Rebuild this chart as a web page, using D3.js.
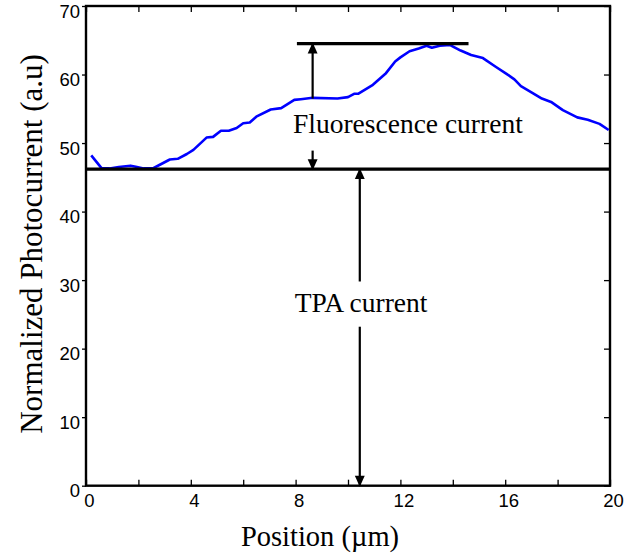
<!DOCTYPE html>
<html lang="en">
  <script>
    // blue trace
    var posX = [0.2, 0.6, 0.9, 1.25, 1.7, 1.9, 2.2, 2.55, 2.8, 3.2, 3.5, 3.85, 4.1, 4.6, 4.85, 5.15, 5.45, 5.75, 6.0, 6.25, 6.5, 7.05, 7.45, 7.95, 8.2, 8.65, 9.6, 10.0, 10.25, 10.4, 10.95, 11.45, 11.8, 12.0, 12.35, 12.7, 13.0, 13.2, 13.5, 13.9, 14.3, 14.7, 15.15, 15.65, 16.05, 16.35, 16.6, 17.05, 17.4, 17.75, 18.2, 18.75, 19.15, 19.6, 19.95];
    var photo = [48.2, 46.3, 46.3, 46.5, 46.7, 46.55, 46.3, 46.3, 46.8, 47.6, 47.7, 48.4, 49.0, 50.8, 50.9, 51.8, 51.8, 52.2, 52.9, 53.0, 53.85, 54.9, 55.1, 56.3, 56.4, 56.6, 56.5, 56.7, 57.2, 57.2, 58.5, 60.2, 61.9, 62.5, 63.4, 63.8, 64.2, 63.9, 64.2, 64.3, 63.5, 62.85, 62.4, 61.1, 60.1, 59.3, 58.3, 57.3, 56.5, 56.0, 54.8, 53.75, 53.4, 52.8, 51.9];

    var xTickLabels = [0, 4, 8, 12, 16, 20];
    var xTicks = [0, 2, 4, 6, 8, 10, 12, 14, 16, 18, 20];
    var yTickLabels = [0, 10, 20, 30, 40, 50, 60, 70];

    // annotation levels
    var tpaLevel = 46.2;
    var peakLevel = 64.5;
    var peakLineX = [8.05, 14.6];
    var fluoArrow = {x: 8.65, upFrom: 56.5, downFrom: 48.9, label: "Fluorescence current", labelX: 7.9, labelY: 51.4};
    var tpaArrow = {x: 10.45, upFrom: 29.8, downFrom: 23.2, label: "TPA current", labelX: 10.5, labelY: 25.4};

    function draw() {
        var svg = d3.select("#chart")
          .append("svg")
            .attr("width", 643)
            .attr("height", 560);

        var x = d3.scaleLinear().domain([0, 20]).range([86, 610]);
        var y = d3.scaleLinear().domain([0, 70]).range([485.7, 6]);

        var defs = svg.append("defs");
        defs.append("marker")
            .attr("id", "head")
            .attr("viewBox", "0 0 10 10")
            .attr("refX", 9)
            .attr("refY", 5)
            .attr("markerWidth", 12)
            .attr("markerHeight", 11)
            .attr("markerUnits", "userSpaceOnUse")
            .attr("orient", "auto")
          .append("path")
            .attr("d", "M0,0.5 L10,5 L0,9.5 Z")
            .attr("fill", "black");

        // bottom axis, ticks inward
        var xAxis = svg.append("g")
            .attr("transform", "translate(0," + y(0) + ")")
            .call(d3.axisBottom(x).tickValues(xTicks).tickSizeInner(-6).tickSizeOuter(0).tickPadding(8)
                .tickFormat(function(d) { return xTickLabels.indexOf(d) >= 0 ? d : ""; }));
        xAxis.select(".domain").remove();
        xAxis.selectAll("text").attr("dx", 3);

        svg.append("g")
            .attr("transform", "translate(0," + y(70) + ")")
            .call(d3.axisTop(x).tickValues(xTicks).tickSizeInner(-6).tickSizeOuter(0).tickFormat(""))
            .select(".domain").remove();

        var yAxis = svg.append("g")
            .attr("transform", "translate(" + x(0) + ",0)")
            .call(d3.axisLeft(y).tickValues(yTickLabels).tickSizeInner(4).tickSizeOuter(0).tickPadding(2));
        yAxis.select(".domain").remove();
        yAxis.selectAll("text").attr("dy", "0.6em");

        svg.append("g")
            .attr("transform", "translate(" + x(20) + ",0)")
            .call(d3.axisRight(y).tickValues(yTickLabels).tickSizeInner(-6).tickSizeOuter(0).tickFormat(""))
            .select(".domain").remove();

        svg.selectAll(".tick line").attr("stroke", "black").attr("stroke-width", 1.3);
        svg.selectAll(".tick text")
            .attr("font-family", "'Liberation Sans', Arial, sans-serif")
            .attr("font-size", 18.5)
            .attr("fill", "black");

        // frame
        svg.append("rect")
            .attr("x", x(0))
            .attr("y", y(70))
            .attr("width", x(20) - x(0))
            .attr("height", y(0) - y(70))
            .attr("fill", "none")
            .attr("stroke", "black")
            .attr("stroke-width", 2.4);

        // curve
        var line = d3.line()
            .x(function(d, i) { return x(posX[i]); })
            .y(function(d) { return y(d); });
        svg.append("path")
            .datum(photo)
            .attr("d", line)
            .attr("fill", "none")
            .attr("stroke", "#0000ff")
            .attr("stroke-width", 2.6)
            .attr("stroke-linejoin", "round");

        // level lines
        svg.append("line")
            .attr("x1", x(0)).attr("x2", x(20))
            .attr("y1", y(tpaLevel)).attr("y2", y(tpaLevel))
            .attr("stroke", "black").attr("stroke-width", 3.2);
        svg.append("line")
            .attr("x1", x(peakLineX[0])).attr("x2", x(peakLineX[1]))
            .attr("y1", y(peakLevel)).attr("y2", y(peakLevel))
            .attr("stroke", "black").attr("stroke-width", 3.2);

        // arrows
        function arrow(xv, from, to) {
            svg.append("line")
                .attr("x1", x(xv)).attr("x2", x(xv))
                .attr("y1", y(from)).attr("y2", y(to))
                .attr("stroke", "black").attr("stroke-width", 2.2)
                .attr("marker-end", "url(#head)");
        }
        arrow(fluoArrow.x, fluoArrow.upFrom, peakLevel);
        arrow(fluoArrow.x, fluoArrow.downFrom, tpaLevel);
        arrow(tpaArrow.x, tpaArrow.upFrom, tpaLevel);
        arrow(tpaArrow.x, tpaArrow.downFrom, 0);

        svg.append("text")
            .attr("x", x(fluoArrow.labelX))
            .attr("y", y(fluoArrow.labelY))
            .attr("font-family", "'Liberation Serif', 'Times New Roman', serif")
            .attr("font-size", 27.5)
            .text(fluoArrow.label);
        svg.append("text")
            .attr("x", x(tpaArrow.labelX))
            .attr("y", y(tpaArrow.labelY))
            .attr("text-anchor", "middle")
            .attr("font-family", "'Liberation Serif', 'Times New Roman', serif")
            .attr("font-size", 27.5)
            .text(tpaArrow.label);

        // axis titles
        svg.append("text")
            .attr("x", 320)
            .attr("y", 546)
            .attr("text-anchor", "middle")
            .attr("font-family", "'Liberation Serif', 'Times New Roman', serif")
            .attr("font-size", 28.5)
            .text("Position (\u00b5m)");
        svg.append("text")
            .attr("transform", "translate(42,244) rotate(-90)")
            .attr("text-anchor", "middle")
            .attr("font-family", "'Liberation Serif', 'Times New Roman', serif")
            .attr("font-size", 31)
            .text("Normalized Photocurrent (a.u)");
    }

    window.onload = draw;
  </script>

  <head>
    <meta http-equiv="content-type" content="text/html; charset=UTF-8">
    <script src="https://d3js.org/d3.v7.min.js"></script>
    <style>
      body { margin: 0; background: white; }
    </style>
  </head>
<body>
    <div id="chart"></div>
</body>
</html>
